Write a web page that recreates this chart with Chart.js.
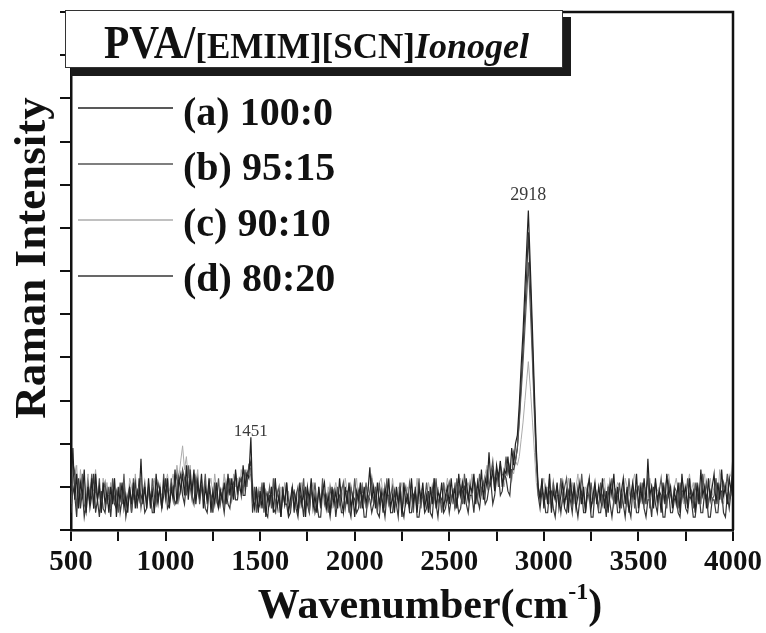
<!DOCTYPE html>
<html>
<head>
<meta charset="utf-8">
<script src="https://cdn.jsdelivr.net/npm/chart.js@4/dist/chart.umd.min.js"></script>
<style>
html,body{margin:0;padding:0;background:#fff}
canvas{display:block}
</style>
</head>
<body>
<canvas id="raman" width="766" height="633"></canvas>
<script>
// Raman shift axis (cm-1)
const WAVENUMBER = [
  500,510,520,530,540,550,560,570,580,590,600,610,620,630,640,650,660,670,680,690,
  700,710,720,730,740,750,760,770,780,790,800,810,820,830,840,850,860,870,880,890,
  900,910,920,930,940,950,960,970,980,990,1000,1010,1020,1030,1040,1050,1060,1070,1080,1090,
  1100,1110,1120,1130,1140,1150,1160,1170,1180,1190,1200,1210,1220,1230,1240,1250,1260,1270,1280,1290,
  1300,1310,1320,1330,1340,1350,1360,1370,1380,1390,1400,1410,1420,1430,1440,1451,1460,1470,1480,1490,
  1500,1510,1520,1530,1540,1550,1560,1570,1580,1590,1600,1610,1620,1630,1640,1650,1660,1670,1680,1690,
  1700,1710,1720,1730,1740,1750,1760,1770,1780,1790,1800,1810,1820,1830,1840,1850,1860,1870,1880,1890,
  1900,1910,1920,1930,1940,1950,1960,1970,1980,1990,2000,2010,2020,2030,2040,2050,2060,2070,2080,2090,
  2100,2110,2120,2130,2140,2150,2160,2170,2180,2190,2200,2210,2220,2230,2240,2250,2260,2270,2280,2290,
  2300,2310,2320,2330,2340,2350,2360,2370,2380,2390,2400,2410,2420,2430,2440,2450,2460,2470,2480,2490,
  2500,2510,2520,2530,2540,2550,2560,2570,2580,2590,2600,2610,2620,2630,2640,2650,2660,2670,2680,2690,
  2700,2710,2720,2730,2740,2750,2760,2770,2780,2790,2800,2810,2820,2830,2840,2850,2860,2870,2880,2890,
  2900,2910,2918,2930,2940,2950,2960,2970,2980,2990,3000,3010,3020,3030,3040,3050,3060,3070,3080,3090,
  3100,3110,3120,3130,3140,3150,3160,3170,3180,3190,3200,3210,3220,3230,3240,3250,3260,3270,3280,3290,
  3300,3310,3320,3330,3340,3350,3360,3370,3380,3390,3400,3410,3420,3430,3440,3450,3460,3470,3480,3490,
  3500,3510,3520,3530,3540,3550,3560,3570,3580,3590,3600,3610,3620,3630,3640,3650,3660,3670,3680,3690,
  3700,3710,3720,3730,3740,3750,3760,3770,3780,3790,3800,3810,3820,3830,3840,3850,3860,3870,3880,3890,
  3900,3910,3920,3930,3940,3950,3960,3970,3980,3990,4000
];

// (a) 100:0
const INTENSITY_A = [
  0.9,1.9,0.7,1.3,0.5,1.1,0.8,1.4,0.4,1.0,0.6,1.2,0.5,1.3,0.7,1.0,0.4,1.1,0.6,0.9,
  0.4,1.0,0.6,1.2,0.3,0.9,0.7,1.1,0.5,0.8,0.4,1.0,0.6,1.1,0.5,0.9,0.7,1.65,0.6,1.0,
  0.5,1.2,0.6,0.9,0.4,1.3,0.7,1.0,0.5,1.1,0.8,1.2,0.5,1.0,0.7,1.4,0.6,1.2,0.9,1.3,
  0.8,1.5,0.7,1.2,0.9,1.4,0.6,1.1,0.8,1.3,0.5,1.0,0.7,1.2,0.4,0.9,0.6,1.1,0.5,0.9,
  0.7,1.1,0.6,1.3,0.8,1.2,0.7,1.4,0.9,1.1,0.8,1.5,1.0,1.3,1.2,2.15,0.8,0.5,1.0,0.4,
  0.9,0.5,1.1,0.3,0.8,0.6,1.0,0.4,1.2,0.5,0.8,0.3,0.9,0.6,1.1,0.4,0.7,1.0,0.5,0.8,
  0.4,1.1,0.6,0.9,0.3,1.0,0.7,1.2,0.5,0.8,0.4,1.0,0.6,0.9,1.1,0.5,0.8,0.4,1.0,0.6,
  0.9,0.5,1.2,0.7,0.4,1.0,0.6,1.1,0.5,0.8,0.3,0.9,0.7,1.1,0.5,1.0,0.6,0.9,1.45,0.7,
  1.0,0.5,1.1,0.6,0.9,0.4,1.0,0.7,1.2,0.5,0.8,0.4,1.0,0.6,0.9,0.3,1.1,0.6,0.8,0.5,
  1.2,0.6,0.9,0.4,1.0,0.7,1.1,0.5,0.8,0.4,1.0,0.6,1.2,0.5,0.9,0.7,1.1,0.5,0.8,1.0,
  0.6,1.2,0.7,1.0,0.5,1.3,0.8,1.1,0.6,1.2,0.7,1.0,0.9,1.3,0.6,1.1,0.8,1.4,0.7,1.2,
  1.0,1.8,1.1,1.4,0.9,1.5,1.2,1.6,1.0,1.4,1.3,1.7,1.2,1.9,1.5,2.0,2.2,2.9,3.8,4.6,
  5.6,6.6,7.4,5.9,4.6,3.2,1.9,1.0,0.7,1.2,0.5,1.0,0.6,1.3,0.4,0.9,0.7,1.1,0.5,0.8,
  1.1,0.6,0.9,0.4,1.2,0.7,1.0,0.5,0.8,1.1,0.6,1.0,0.4,0.9,1.2,0.5,0.8,1.1,0.6,1.0,
  0.7,1.2,0.5,0.9,0.4,1.1,0.8,1.3,0.6,1.0,0.5,0.9,1.2,0.6,1.0,0.4,0.8,1.1,0.7,1.3,
  0.5,1.0,0.7,1.2,0.6,1.65,0.8,1.0,0.5,1.2,0.7,0.9,0.4,1.1,0.6,1.3,0.8,1.0,0.5,0.9,
  0.6,1.1,0.4,1.3,0.8,1.0,0.5,1.2,0.7,0.9,0.4,1.1,0.6,1.4,0.8,1.0,0.5,1.2,0.7,1.0,
  1.3,0.6,1.1,0.7,1.4,0.8,1.0,0.6,1.2,0.9,1.5
];

// (b) 95:15
const INTENSITY_B = [
  0.6,1.2,1.4,0.5,1.0,0.7,1.3,0.6,0.4,1.1,0.8,1.3,0.5,1.0,0.7,1.2,0.4,0.9,1.1,0.6,
  1.0,0.5,1.2,0.7,0.9,0.4,1.1,0.6,1.3,0.5,0.8,1.0,0.4,1.2,0.7,0.9,1.0,0.5,0.8,1.1,
  0.6,1.0,0.5,1.2,0.8,0.6,1.1,0.9,0.5,1.3,0.7,1.0,0.6,1.2,0.8,1.1,1.3,0.7,1.0,1.4,
  1.2,0.8,1.5,1.0,0.7,1.3,0.9,1.2,0.6,1.0,0.8,1.3,0.6,1.1,0.8,0.5,1.0,0.7,1.2,0.6,
  0.9,0.5,1.1,0.8,1.2,0.7,1.0,1.3,0.8,1.2,1.1,0.9,1.4,1.0,1.5,1.4,0.6,1.0,0.4,0.9,
  0.6,1.1,0.4,0.9,0.7,1.0,0.5,1.2,0.6,0.8,1.0,0.4,0.9,0.6,1.1,0.7,0.5,1.0,0.4,0.8,
  1.0,0.6,0.8,1.2,0.5,0.9,0.4,1.0,0.7,1.1,0.6,0.9,0.5,1.2,0.6,0.8,0.4,1.0,0.7,0.9,
  0.5,1.0,0.6,0.9,1.1,0.5,0.8,0.4,1.0,0.7,1.2,0.6,0.9,0.5,1.0,0.7,1.1,0.6,0.9,1.2,
  0.6,1.0,0.4,1.1,0.7,0.9,0.5,1.2,0.6,0.8,1.0,0.5,0.9,0.7,1.1,0.4,0.8,1.0,0.6,1.1,
  0.8,0.4,1.0,0.6,1.2,0.5,0.9,0.7,1.1,0.6,0.5,1.0,0.7,1.2,0.6,0.8,0.4,1.1,0.7,0.9,
  1.1,0.7,0.9,0.5,1.2,0.8,1.0,0.6,1.3,0.9,0.7,1.1,0.8,1.2,1.0,0.7,1.3,0.9,1.1,0.8,
  1.4,1.0,1.3,1.6,1.1,1.4,1.0,1.5,1.3,1.2,1.7,1.3,1.5,1.2,1.8,1.6,1.9,2.5,3.2,3.9,
  4.7,5.5,6.2,5.0,3.9,2.7,1.6,1.0,0.8,1.1,0.6,1.0,0.7,1.2,0.5,1.1,0.8,1.0,0.6,1.2,
  0.7,1.0,1.2,0.6,0.9,0.5,1.1,0.7,1.0,0.6,1.3,0.8,0.5,1.0,0.7,1.1,0.6,1.0,0.8,0.5,
  1.1,0.6,0.9,0.5,1.0,0.8,1.2,0.6,0.9,0.7,1.1,0.5,1.0,0.8,0.6,1.2,0.7,1.0,0.5,0.9,
  1.0,0.7,1.1,0.6,0.9,1.2,0.5,1.0,0.8,1.1,0.6,0.9,1.2,0.7,1.0,0.5,1.1,0.8,0.6,1.0,
  0.9,0.5,1.1,0.7,1.0,0.6,1.2,0.8,0.9,0.5,1.1,0.7,1.0,0.6,1.3,0.8,1.1,0.6,0.9,0.7,
  0.8,1.2,0.6,1.0,0.7,1.1,0.9,1.3,0.7,1.0,1.5
];

// (c) 90:10
const INTENSITY_C = [
  1.2,0.8,1.1,1.5,0.7,1.4,0.9,1.2,0.8,1.3,0.6,1.1,0.9,1.4,0.7,1.0,0.6,1.2,0.8,1.1,
  0.7,1.1,0.6,1.2,0.5,0.9,1.0,0.6,1.1,0.8,0.6,1.2,1.0,0.7,1.3,0.8,0.9,1.2,0.7,1.0,
  0.6,1.1,0.8,1.0,1.2,0.7,1.1,0.9,0.8,1.2,1.0,1.3,0.9,1.1,1.3,1.0,1.5,1.2,1.6,1.95,
  1.4,1.7,1.2,1.5,0.9,1.3,1.1,1.4,0.8,1.2,0.9,1.1,0.7,1.0,1.2,0.8,1.3,0.9,0.6,1.0,
  0.9,1.3,0.7,1.0,1.2,0.8,1.3,1.0,1.2,0.9,1.4,1.1,1.0,1.4,1.2,1.3,1.1,0.7,1.0,0.6,
  1.0,0.7,1.1,0.5,0.9,0.6,1.0,0.8,1.2,0.6,0.4,1.0,0.7,1.1,0.6,0.9,0.5,1.0,0.8,0.6,
  0.9,0.5,1.1,0.7,1.0,0.8,0.5,0.9,1.1,0.6,0.4,1.0,0.7,1.1,0.8,0.6,1.0,0.7,0.5,0.9,
  1.1,0.8,0.6,1.0,0.7,1.2,0.9,0.5,1.0,0.7,0.9,1.2,0.6,0.9,1.1,0.7,0.5,1.0,0.8,1.2,
  1.0,0.6,0.5,1.1,1.2,0.8,0.6,0.9,1.0,0.7,1.2,0.8,0.7,1.0,0.9,1.1,0.6,0.8,1.0,0.5,
  1.1,0.7,0.8,1.2,0.6,0.9,1.0,0.6,0.7,1.1,0.9,0.6,1.2,0.8,1.0,0.7,0.6,1.1,0.9,1.2,
  0.9,0.7,0.6,1.1,0.8,1.0,1.2,0.7,0.6,1.0,1.1,0.8,1.3,0.9,0.7,1.2,1.0,0.8,1.1,1.3,
  1.5,1.1,1.0,1.3,0.9,1.4,1.2,1.6,1.1,1.0,1.3,1.5,1.2,1.4,1.3,1.6,1.5,1.7,2.1,2.5,
  3.0,3.5,3.9,3.2,2.5,1.8,1.1,0.8,0.9,1.0,1.2,0.7,1.0,0.6,0.9,1.1,0.7,1.0,0.8,1.2,
  1.0,0.8,0.7,1.2,0.9,1.1,0.6,1.0,1.3,0.8,0.7,0.6,1.0,0.9,1.2,0.7,0.8,1.1,0.6,1.0,
  0.8,1.1,1.2,0.7,0.9,1.0,0.8,0.6,0.9,1.1,1.0,0.7,0.6,1.2,1.0,0.9,0.7,1.1,1.3,0.9,
  0.9,1.1,0.6,0.8,1.0,0.7,1.2,0.9,0.7,1.1,0.9,1.0,0.6,0.8,1.0,1.2,1.3,0.9,0.7,1.0,
  1.2,0.9,0.8,1.1,0.6,0.9,1.0,1.3,0.9,1.1,0.7,1.0,0.6,0.9,1.1,1.3,0.6,1.0,1.2,0.8,
  1.0,1.2,0.8,1.4,1.1,0.6,1.1,0.9,1.2,1.3,1.7
];

// (d) 80:20
const INTENSITY_D = [
  0.4,1.0,0.8,0.3,1.2,0.5,0.9,0.3,0.6,1.0,0.5,0.8,1.3,0.4,0.7,0.3,0.9,0.5,0.4,0.8,
  0.8,0.3,0.9,0.6,0.5,1.0,0.4,0.7,1.0,0.3,0.6,0.9,0.4,0.8,1.1,0.5,1.2,0.7,0.9,0.4,
  0.5,0.9,0.8,0.4,0.4,0.9,0.6,1.0,0.5,0.8,1.2,0.5,0.6,0.9,1.0,0.6,0.7,1.1,1.3,0.8,
  0.6,1.1,0.9,1.4,0.8,0.6,1.2,0.9,0.7,1.0,0.9,0.5,0.4,0.9,0.8,0.4,1.1,0.7,0.5,0.9,
  0.7,0.4,0.9,0.6,0.5,1.0,1.1,0.7,0.7,1.1,1.2,0.8,0.8,1.3,1.4,1.6,0.4,0.9,0.8,0.5,
  0.6,0.9,1.0,0.4,0.3,0.8,0.8,0.5,0.4,0.9,0.7,0.3,1.0,0.6,0.6,0.3,0.4,0.8,0.9,0.5,
  0.3,0.8,0.7,0.3,1.0,0.6,0.4,0.9,0.8,0.4,0.6,0.3,0.3,0.9,0.8,0.5,0.6,0.3,0.7,0.9,
  0.3,0.7,0.8,0.4,0.4,0.9,0.9,0.5,0.3,0.8,0.7,0.4,0.5,0.9,0.8,0.3,0.3,0.8,0.7,0.4,
  0.6,0.9,0.4,0.3,0.8,0.6,0.3,0.8,0.8,0.4,0.4,0.9,0.6,0.3,1.0,0.5,0.3,0.7,0.8,0.4,
  0.4,0.8,0.9,0.3,0.3,0.7,0.8,0.4,0.5,0.9,0.4,0.3,0.9,0.6,0.3,0.8,0.7,0.4,0.5,0.8,
  0.4,0.7,0.9,0.5,0.7,0.4,0.5,0.9,1.0,0.6,0.4,0.8,0.8,0.4,1.0,0.7,0.5,0.9,0.9,0.6,
  0.7,1.0,1.1,0.6,0.8,1.2,1.3,0.8,0.9,1.3,1.2,0.9,0.8,1.4,1.4,1.6,1.9,2.6,3.4,4.2,
  5.1,6.0,6.9,5.5,4.2,2.9,1.7,0.8,0.5,0.9,0.8,0.4,0.4,0.9,0.9,0.5,0.3,0.8,0.8,0.4,
  0.8,0.5,0.4,0.9,0.7,0.4,1.0,0.6,0.3,0.7,0.9,0.4,0.4,0.8,0.8,0.3,0.3,0.9,0.7,0.4,
  0.4,0.8,0.7,0.3,1.0,0.6,0.3,0.7,0.9,0.4,0.4,0.8,0.6,0.3,0.8,0.5,0.3,0.9,0.8,0.4,
  0.4,0.8,0.9,0.5,0.3,0.7,0.7,0.3,1.0,0.6,0.4,0.9,0.8,0.3,0.3,0.8,0.9,0.4,0.4,0.7,
  0.8,0.4,0.3,0.9,0.9,0.5,0.4,0.8,0.7,0.3,0.3,0.7,0.9,0.4,0.4,0.9,0.8,0.3,0.3,0.7,
  0.7,0.4,0.4,0.9,0.9,0.4,0.3,0.8,0.5,0.9,1.1
];

const SERIES_LABELS = ['(a) 100:0', '(b) 95:15', '(c) 90:10', '(d) 80:20'];
const SERIES_VALUES = [INTENSITY_A, INTENSITY_B, INTENSITY_C, INTENSITY_D];
const SERIES_COLORS = ['#222222', '#555555', '#ababab', '#363636'];

// Band positions annotated above the spectrum
const BAND_MARKS = [1451, 2918];

const TITLE_PARTS = ['PVA/', '[EMIM][SCN]', 'Ionogel'];
const X_TITLE = ['Wavenumber(cm', '-1', ')'];
const Y_TITLE = 'Raman Intensity';

const SERIF = '"Liberation Serif","Times New Roman",serif';
const INK = '#111111';

const datasets = SERIES_VALUES.map((vals, k) => ({
  label: SERIES_LABELS[k],
  data: WAVENUMBER.map((w, i) => ({ x: w, y: vals[i] })),
  borderColor: SERIES_COLORS[k],
  borderWidth: k === 2 ? 1 : 1.2,
  pointRadius: 0,
  tension: 0,
  order: k === 2 ? 5 : k
}));

const decorations = {
  id: 'decorations',
  afterDraw(chart) {
    const ctx = chart.ctx;
    const a = chart.chartArea;
    const xs = chart.scales.x, ys = chart.scales.y;
    ctx.save();

    // top and right frame
    ctx.strokeStyle = INK;
    ctx.lineWidth = 2.5;
    ctx.beginPath();
    ctx.moveTo(a.left, a.top);
    ctx.lineTo(a.right, a.top);
    ctx.lineTo(a.right, a.bottom);
    ctx.stroke();

    // band annotations
    ctx.fillStyle = '#3a3a3a';
    ctx.textAlign = 'center';
    ctx.textBaseline = 'alphabetic';
    BAND_MARKS.forEach((w, n) => {
      const i = WAVENUMBER.indexOf(w);
      const top = Math.max(...SERIES_VALUES.map(s => s[i]));
      const lift = n === 0 ? 1 : 11;
      ctx.font = (n === 0 ? '17px ' : '18px ') + SERIF;
      ctx.fillText(String(w), xs.getPixelForValue(w), ys.getPixelForValue(top) - lift);
    });

    // title box with drop shadow
    ctx.fillStyle = '#1b1b1b';
    ctx.fillRect(71, 17, 500, 59);
    ctx.fillStyle = '#ffffff';
    ctx.fillRect(65, 10, 498, 58);
    ctx.strokeStyle = '#333';
    ctx.lineWidth = 1;
    ctx.strokeRect(65.5, 10.5, 497, 57);

    ctx.fillStyle = INK;
    ctx.textAlign = 'left';
    let tx = 104;
    const ty = 58;
    ctx.font = 'bold 46px ' + SERIF;
    ctx.save();
    ctx.translate(tx, ty);
    ctx.scale(0.9, 1);
    ctx.fillText(TITLE_PARTS[0], 0, 0);
    ctx.restore();
    tx += ctx.measureText(TITLE_PARTS[0]).width * 0.9;
    ctx.font = 'bold 35px ' + SERIF;
    ctx.fillText(TITLE_PARTS[1], tx, ty);
    tx += ctx.measureText(TITLE_PARTS[1]).width;
    ctx.font = 'italic bold 36px ' + SERIF;
    ctx.fillText(TITLE_PARTS[2], tx, ty);

    // legend
    datasets.forEach((ds, k) => {
      const ly = 108 + k * 56;
      ctx.strokeStyle = ds.borderColor;
      ctx.lineWidth = 1.3;
      ctx.beginPath();
      ctx.moveTo(78, ly);
      ctx.lineTo(173, ly);
      ctx.stroke();
      ctx.fillStyle = INK;
      ctx.font = 'bold 40px ' + SERIF;
      ctx.fillText(ds.label, 183, 125 + k * 55.3);
    });

    // y title
    ctx.save();
    ctx.translate(33, 258);
    ctx.rotate(-Math.PI / 2);
    ctx.textAlign = 'center';
    ctx.textBaseline = 'middle';
    ctx.font = 'bold 45px ' + SERIF;
    ctx.fillText(Y_TITLE, 0, 0);
    ctx.restore();

    // x title with superscript
    ctx.textBaseline = 'alphabetic';
    ctx.font = 'bold 42px ' + SERIF;
    const w0 = ctx.measureText(X_TITLE[0]).width;
    const w2 = ctx.measureText(X_TITLE[2]).width;
    ctx.font = 'bold 24px ' + SERIF;
    const w1 = ctx.measureText(X_TITLE[1]).width;
    let bx = 430 - (w0 + w1 + w2) / 2;
    const by = 618;
    ctx.font = 'bold 42px ' + SERIF;
    ctx.fillText(X_TITLE[0], bx, by);
    bx += w0;
    ctx.font = 'bold 24px ' + SERIF;
    ctx.fillText(X_TITLE[1], bx, by - 19);
    bx += w1;
    ctx.font = 'bold 42px ' + SERIF;
    ctx.fillText(X_TITLE[2], bx, by);

    ctx.restore();
  }
};

new Chart(document.getElementById('raman'), {
  type: 'line',
  data: { datasets },
  options: {
    responsive: false,
    animation: false,
    devicePixelRatio: 1,
    layout: { padding: { top: 12, right: 30, left: 0, bottom: 0 } },
    plugins: { legend: { display: false }, tooltip: { enabled: false } },
    scales: {
      x: {
        type: 'linear',
        min: 500,
        max: 4000,
        afterFit(s) { s.height = 103; },
        ticks: {
          stepSize: 250,
          autoSkip: false,
          maxRotation: 0,
          padding: 4,
          color: INK,
          font: { family: SERIF, size: 29, weight: 'bold' },
          callback: v => (v % 500 === 0 ? String(v) : '')
        },
        grid: { drawOnChartArea: false, drawTicks: true, tickLength: 11, color: INK, lineWidth: 2 },
        border: { display: true, color: INK, width: 2.5 }
      },
      y: {
        min: 0,
        max: 12,
        afterFit(s) { s.width = 71; },
        ticks: { stepSize: 1, autoSkip: false, callback: () => '' },
        grid: { drawOnChartArea: false, drawTicks: true, tickLength: 11, color: INK, lineWidth: 2 },
        border: { display: true, color: INK, width: 2.5 }
      }
    }
  },
  plugins: [decorations]
});
</script>
</body>
</html>
